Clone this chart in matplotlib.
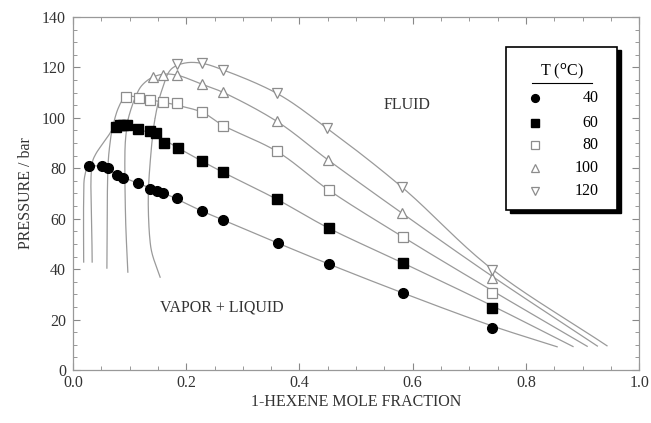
import numpy as np
import matplotlib
matplotlib.use("Agg")
import matplotlib.pyplot as plt
from matplotlib.patches import Rectangle
from matplotlib.ticker import MultipleLocator

plt.rcParams['font.family'] = ['Liberation Serif', 'DejaVu Serif']

temps = ["40", "60", "80", "100", "120"]

# measured points (mole fraction, bar)
x40 = [0.028, 0.051, 0.062, 0.078, 0.088, 0.115, 0.136, 0.148, 0.159, 0.184,
       0.228, 0.265, 0.362, 0.452, 0.583, 0.740]
p40 = [80.8, 80.8, 80.0, 77.2, 76.0, 74.1, 71.7, 70.9, 70.1, 68.1,
       63.0, 59.4, 50.3, 42.0, 30.5, 16.6]

x60 = [0.076, 0.083, 0.088, 0.095, 0.115, 0.136, 0.147, 0.161, 0.186,
       0.228, 0.265, 0.360, 0.452, 0.583, 0.740]
p60 = [96.2, 97.0, 97.0, 97.0, 95.4, 94.7, 93.9, 89.9, 87.9,
       82.8, 78.4, 67.7, 56.2, 42.4, 24.6]

x80 = [0.094, 0.117, 0.136, 0.159, 0.184, 0.228, 0.265, 0.360, 0.452, 0.583, 0.740]
p80 = [108.1, 107.7, 106.9, 106.1, 105.7, 102.2, 96.6, 86.7, 71.3, 52.7, 30.5]

x100 = [0.141, 0.159, 0.184, 0.228, 0.265, 0.360, 0.451, 0.581, 0.740]
p100 = [116.0, 116.8, 116.8, 113.3, 110.1, 98.6, 83.2, 62.2, 36.4]

x120 = [0.184, 0.228, 0.265, 0.360, 0.449, 0.581, 0.740]
p120 = [121.2, 121.6, 118.8, 109.7, 95.8, 72.5, 39.6]

# model curves (dew branch bottom -> critical region -> bubble branch end)
cx40 = [0.019, 0.019, 0.021, 0.028, 0.051, 0.078, 0.115, 0.160, 0.228, 0.265,
        0.362, 0.452, 0.583, 0.740, 0.855]
cp40 = [42.8, 67.3, 77.0, 80.8, 80.5, 77.5, 74.0, 70.2, 63.0, 59.5,
        50.3, 42.0, 30.5, 17.5, 9.2]

cx60 = [0.034, 0.034, 0.040, 0.048, 0.062, 0.071, 0.083, 0.095, 0.115, 0.147,
        0.186, 0.228, 0.265, 0.360, 0.452, 0.583, 0.740, 0.883]
cp60 = [42.8, 82.0, 85.5, 88.3, 92.7, 95.6, 97.2, 97.0, 95.6, 93.0,
        88.0, 82.8, 78.4, 67.7, 56.2, 42.4, 25.5, 9.3]

cx80 = [0.060, 0.062, 0.065, 0.069, 0.080, 0.090, 0.102, 0.117, 0.136, 0.159,
        0.184, 0.228, 0.265, 0.360, 0.452, 0.583, 0.740, 0.908]
cp80 = [40.4, 81.2, 89.0, 95.0, 103.8, 107.5, 108.5, 108.0, 107.2, 106.2,
        105.0, 102.2, 97.0, 86.7, 71.3, 52.7, 31.5, 9.4]

cx100 = [0.097, 0.093, 0.092, 0.094, 0.097, 0.110, 0.122, 0.140, 0.160, 0.184,
         0.228, 0.265, 0.360, 0.451, 0.581, 0.740, 0.926]
cp100 = [38.8, 60.0, 87.9, 94.0, 99.0, 108.0, 112.9, 116.0, 117.3, 116.9,
         113.3, 110.1, 98.6, 83.2, 62.2, 37.2, 9.5]

cx120 = [0.154, 0.140, 0.136, 0.133, 0.136, 0.145, 0.157, 0.175, 0.200, 0.228,
         0.265, 0.360, 0.449, 0.581, 0.740, 0.943]
cp120 = [36.8, 46.0, 51.5, 67.3, 81.2, 99.8, 110.9, 119.6, 121.8, 121.6,
         119.0, 109.7, 95.8, 72.5, 40.0, 9.6]


def smooth_path(xs, ys, n=20):
    # centripetal Catmull-Rom through the control points, scaled to plot units
    P = np.column_stack([np.asarray(xs) / 1.0, np.asarray(ys) / 140.0])
    P = np.vstack([2 * P[0] - P[1], P, 2 * P[-1] - P[-2]])
    out = []
    for i in range(1, len(P) - 2):
        p0, p1, p2, p3 = P[i - 1], P[i], P[i + 1], P[i + 2]
        t0 = 0.0
        t1 = t0 + np.linalg.norm(p1 - p0) ** 0.5 + 1e-9
        t2 = t1 + np.linalg.norm(p2 - p1) ** 0.5 + 1e-9
        t3 = t2 + np.linalg.norm(p3 - p2) ** 0.5 + 1e-9
        t = np.linspace(t1, t2, n)[:, None]
        a1 = (t1 - t) / (t1 - t0) * p0 + (t - t0) / (t1 - t0) * p1
        a2 = (t2 - t) / (t2 - t1) * p1 + (t - t1) / (t2 - t1) * p2
        a3 = (t3 - t) / (t3 - t2) * p2 + (t - t2) / (t3 - t2) * p3
        b1 = (t2 - t) / (t2 - t0) * a1 + (t - t0) / (t2 - t0) * a2
        b2 = (t3 - t) / (t3 - t1) * a2 + (t - t1) / (t3 - t1) * a3
        c = (t2 - t) / (t2 - t1) * b1 + (t - t1) / (t2 - t1) * b2
        out.append(c)
    c = np.vstack(out)
    return c[:, 0], c[:, 1] * 140.0


fig = plt.figure(figsize=(6.51, 4.23), dpi=100)
ax = fig.add_axes([0.112, 0.1253, 0.870, 0.8347])

line_col = '#9a9a9a'
for cx, cp in [(cx40, cp40), (cx60, cp60), (cx80, cp80), (cx100, cp100), (cx120, cp120)]:
    sx, sy = smooth_path(cx, cp)
    ax.plot(sx, sy, '-', color=line_col, lw=0.9, zorder=1)

open_col = '#8c8c8c'
styles = [dict(marker='o', ms=7, mfc='black', mec='black'),
          dict(marker='s', ms=7, mfc='black', mec='black'),
          dict(marker='s', ms=7, mfc='white', mec=open_col, mew=0.9),
          dict(marker='^', ms=7.5, mfc='white', mec=open_col, mew=0.9),
          dict(marker='v', ms=7.5, mfc='white', mec=open_col, mew=0.9)]
series = [(x40, p40), (x60, p60), (x80, p80), (x100, p100), (x120, p120)]
for (xs, ps), st in zip(series, styles):
    ax.plot(xs, ps, linestyle='none', zorder=3, **st)

ax.set_xlim(0, 1.0)
ax.set_ylim(0, 140)
ax.xaxis.set_major_locator(MultipleLocator(0.2))
ax.xaxis.set_minor_locator(MultipleLocator(0.05))
ax.yaxis.set_major_locator(MultipleLocator(20))
ax.yaxis.set_minor_locator(MultipleLocator(5))
ax.xaxis.set_major_formatter(matplotlib.ticker.FormatStrFormatter('%.1f'))
ax.tick_params(which='both', direction='in', top=True, right=True,
               colors='#888888', labelcolor='#333333', labelsize=11.5)
ax.tick_params(which='major', length=5, width=0.8)
ax.tick_params(which='minor', length=3, width=0.6)
ax.tick_params(axis='y', pad=5)
for s in ax.spines.values():
    s.set_color('#999999')
    s.set_linewidth(0.9)

ax.set_xlabel('1-HEXENE MOLE FRACTION', fontsize=11.5, color='#333333', labelpad=2)
ax.set_ylabel('PRESSURE / bar', fontsize=11.5, color='#333333', labelpad=6)

ax.text(0.59, 105, 'FLUID', fontsize=11.5, color='#333333', ha='center', va='center')
ax.text(0.263, 24.6, 'VAPOR + LIQUID', fontsize=11.5, color='#333333', ha='center', va='center')


# hand-made legend box with shadow
def axpt(px, py):
    return (px - 73) / 566.0, (370 - py) / 353.0


bx0, by1 = axpt(506, 47)
bx1, by0 = axpt(617, 210)
sh = 4 / 566.0
shy = 3 / 353.0
ax.add_patch(Rectangle((bx0 + sh, by0 - shy), bx1 - bx0, by1 - by0, transform=ax.transAxes,
                       facecolor='black', edgecolor='black', zorder=5, clip_on=False))
ax.add_patch(Rectangle((bx0, by0), bx1 - bx0, by1 - by0, transform=ax.transAxes,
                       facecolor='white', edgecolor='black', lw=1.2, zorder=6, clip_on=False))
tx, ty = axpt(562, 71)
ax.text(tx, ty, r'T ($^{\rm o}$C)', transform=ax.transAxes, fontsize=11.5,
        ha='center', va='center', zorder=7)
ux0, uy = axpt(532, 83)
ux1, _ = axpt(592, 83)
ax.plot([ux0, ux1], [uy, uy], transform=ax.transAxes, color='black', lw=0.8, zorder=7)
rows = [98, 123, 145, 168, 191]
for lab, st, ry in zip(temps, styles, rows):
    mx, my = axpt(535, ry)
    lx, _ = axpt(598, ry)
    st2 = dict(st)
    st2['ms'] = st['ms'] * 0.8
    ax.plot([mx], [my], transform=ax.transAxes, linestyle='none', zorder=7, clip_on=False, **st2)
    ax.text(lx, my, lab, transform=ax.transAxes, fontsize=11.5, ha='right', va='center', zorder=7)

fig.savefig('out.png', dpi=100)
